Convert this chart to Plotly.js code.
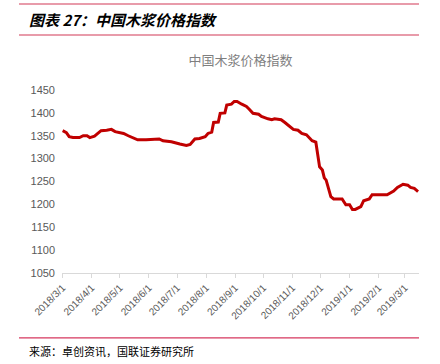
<!DOCTYPE html>
<html><head><meta charset="utf-8">
<script src="https://cdn.plot.ly/plotly-3.0.1.min.js"></script>
<style>html,body{margin:0;padding:0;background:#fff;}#c{width:440px;height:364px;}</style>
</head><body><div id="c"></div>
<script>
const dates = ['2018-03-01','2018-03-05','2018-03-08','2018-03-12','2018-03-19','2018-03-23','2018-03-27','2018-03-30','2018-04-04','2018-04-08','2018-04-11','2018-04-17','2018-04-22','2018-04-26','2018-05-01','2018-05-05','2018-05-10','2018-05-15','2018-05-20','2018-05-29','2018-06-04','2018-06-12','2018-06-16','2018-06-25','2018-07-04','2018-07-11','2018-07-15','2018-07-20','2018-07-25','2018-07-31','2018-08-03','2018-08-07','2018-08-09','2018-08-14','2018-08-16','2018-08-21','2018-08-23','2018-08-28','2018-08-31','2018-09-03','2018-09-08','2018-09-13','2018-09-16','2018-09-20','2018-09-26','2018-09-29','2018-10-06','2018-10-10','2018-10-13','2018-10-20','2018-10-24','2018-10-29','2018-11-02','2018-11-07','2018-11-11','2018-11-16','2018-11-19','2018-11-22','2018-11-26','2018-11-30','2018-12-03','2018-12-05','2018-12-07','2018-12-12','2018-12-15','2018-12-19','2018-12-24','2018-12-28','2019-01-01','2019-01-04','2019-01-07','2019-01-13','2019-01-16','2019-01-22','2019-01-25','2019-02-10','2019-02-14','2019-02-17','2019-02-21','2019-02-27','2019-03-04','2019-03-07','2019-03-11','2019-03-15'];
const values = [1361,1357,1348,1346,1346,1350,1350,1346,1349,1355,1361,1362,1364,1359,1357,1355,1350,1346,1341,1341,1342,1343,1339,1337,1332,1329,1331,1343,1344,1348,1355,1358,1379,1380,1399,1400,1417,1419,1425,1425,1419,1414,1408,1399,1397,1392,1387,1385,1387,1385,1379,1371,1364,1362,1355,1352,1346,1339,1336,1282,1275,1258,1253,1217,1212,1212,1212,1199,1199,1189,1189,1195,1208,1212,1221,1221,1226,1229,1237,1244,1242,1237,1235,1228];
const tickDates = ['2018-03-01','2018-04-01','2018-05-01','2018-06-01','2018-07-01','2018-08-01','2018-09-01','2018-10-01','2018-11-01','2018-12-01','2019-01-01','2019-02-01','2019-03-01'];
const tickLabels = ['2018/3/1','2018/4/1','2018/5/1','2018/6/1','2018/7/1','2018/8/1','2018/9/1','2018/10/1','2018/11/1','2018/12/1','2019/1/1','2019/2/1','2019/3/1'];
const yTicks = [1050,1100,1150,1200,1250,1300,1350,1400,1450];
const headerText = '图表 27：中国木浆价格指数';
const chartTitle = '中国木浆价格指数';
const sourceText = '来源：卓创资讯，国联证券研究所';

const trace = {x: dates, y: values, type: 'scatter', mode: 'lines',
  line: {color: '#C00000', width: 3}, hoverinfo: 'skip'};

const pink = '#E07A8E';
const layout = {
  width: 440, height: 364,
  margin: {l: 62, r: 21, t: 90, b: 91},
  paper_bgcolor: '#fff', plot_bgcolor: '#fff',
  showlegend: false,
  font: {family: 'Liberation Sans Narrow, Liberation Sans, Arial', color: '#595959'},
  xaxis: {type: 'date', range: ['2018-02-28 08:00', '2019-03-16'],
    tickvals: tickDates, ticktext: tickLabels, tickangle: -45,
    tickfont: {size: 10, color: '#595959'},
    showgrid: false, zeroline: false, showline: true, linecolor: '#D9D9D9', linewidth: 1,
    ticks: 'outside', ticklen: 4, tickcolor: '#D9D9D9'},
  yaxis: {range: [1050, 1450], tickvals: yTicks, showgrid: false, zeroline: false,
    showline: false, ticks: '', tickfont: {size: 11, color: '#595959'}, ticklabelstandoff: 6},
  title: {text: chartTitle, x: 0.5, xref: 'paper', y: 0.835, yref: 'container', yanchor: 'middle',
    font: {family: 'Noto Sans CJK SC', size: 13, color: '#7F7F7F'}},
  shapes: [
    {type: 'line', xref: 'paper', yref: 'paper', x0: -0.1204, x1: 1, y0: 1.470, y1: 1.470, line: {color: pink, width: 1.5}},
    {type: 'line', xref: 'paper', yref: 'paper', x0: -0.1204, x1: 1, y0: 1.3005, y1: 1.3005, line: {color: pink, width: 1.5}},
    {type: 'line', xref: 'paper', yref: 'paper', x0: -0.1204, x1: 1, y0: -0.355, y1: -0.355, line: {color: '#D6375E', width: 1.2}}
  ],
  annotations: [
    {text: '<b><i>' + headerText + '</i></b>', xref: 'paper', yref: 'paper', x: -0.098, y: 1.385,
      xanchor: 'left', yanchor: 'middle', showarrow: false,
      font: {family: 'Noto Sans CJK SC', size: 15, color: '#000'}},
    {text: sourceText, xref: 'paper', yref: 'paper', x: -0.098, y: -0.426,
      xanchor: 'left', yanchor: 'middle', showarrow: false,
      font: {family: 'Noto Sans CJK SC', size: 11, color: '#000'}}
  ]
};
Plotly.newPlot('c', [trace], layout, {displayModeBar: false, staticPlot: true});
</script></body></html>
